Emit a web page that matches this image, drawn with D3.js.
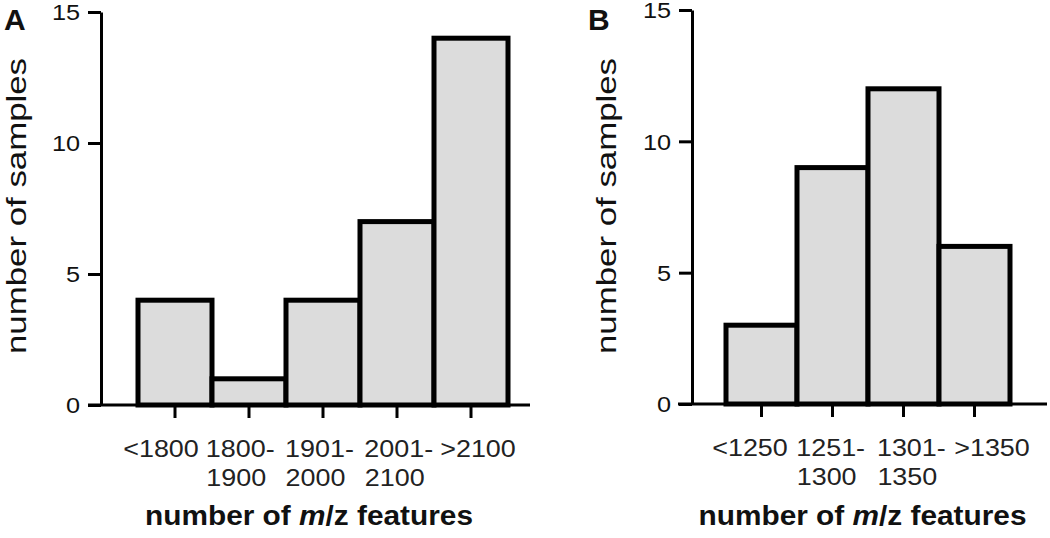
<!DOCTYPE html>
<html>
<head>
<meta charset="utf-8">
<script src="https://cdn.jsdelivr.net/npm/d3@7.9.0/dist/d3.min.js"></script>
<style>
  body { margin: 0; background: #fff; }
  svg { display: block; font-family: "Liberation Sans", Arial, sans-serif; }
</style>
</head>
<body>
<svg id="chart" width="1050" height="538"></svg>
<script>
// Panel A data
const labelsA = [['<1800'], ['1800-', '1900'], ['1901-', '2000'], ['2001-', '2100'], ['>2100']];
const valuesA = [4, 1, 4, 7, 14];

// Panel B data
const labelsB = [['<1250'], ['1251-', '1300'], ['1301-', '1350'], ['>1350']];
const valuesB = [3, 9, 12, 6];

const yTicks = [0, 5, 10, 15];
const yLabel = 'number of samples';

const svg = d3.select('#chart');

function drawPanel(cfg) {
  const { letter, labels, values, axisX, y0, y15, barL, barR, lineL, lineR, labL, labR, letterX, ylabX } = cfg;
  const keys = labels.map((d) => d.join(' '));

  const y = d3.scaleLinear().domain([0, 15]).range([y0, y15]);
  const x = d3.scaleBand().domain(keys).range([barL, barR]).padding(0);
  // label positions spread a little wider than the ticks, like the original
  const xl = d3.scalePoint().domain(keys).range([labL, labR]);

  const g = svg.append('g');

  // bars
  g.selectAll('rect.bar')
    .data(values)
    .join('rect')
    .attr('class', 'bar')
    .attr('x', (d, i) => x(keys[i]))
    .attr('y', (d) => y(d))
    .attr('width', x.bandwidth())
    .attr('height', (d) => y(0) - y(d))
    .attr('fill', '#dcdcdc')
    .attr('stroke', '#000')
    .attr('stroke-width', 5);

  // y axis
  const yAxis = d3.axisLeft(y).tickValues(yTicks).tickSize(13).tickSizeOuter(0);
  const ya = g.append('g').attr('transform', `translate(${axisX},0)`).call(yAxis);
  ya.select('.domain').attr('stroke', '#000').attr('stroke-width', 3);
  ya.selectAll('.tick line').attr('stroke', '#000').attr('stroke-width', 3);
  ya.selectAll('.tick text')
    .attr('x', -21 / 1.15)
    .attr('dy', '0.36em')
    .attr('transform', 'scale(1.15,1)')
    .attr('font-size', 22)
    .attr('fill', '#111');

  // x axis baseline
  g.append('line')
    .attr('x1', lineL).attr('x2', lineR)
    .attr('y1', y(0)).attr('y2', y(0))
    .attr('stroke', '#000').attr('stroke-width', 3);

  // x ticks
  const xAxis = d3.axisBottom(x).tickSize(13).tickSizeOuter(0).tickFormat('');
  const xa = g.append('g').attr('transform', `translate(0,${y(0)})`).call(xAxis);
  xa.select('.domain').remove();
  xa.selectAll('.tick line').attr('stroke', '#000').attr('stroke-width', 3);

  // x tick labels (two lines)
  const lab = g.selectAll('g.lab')
    .data(labels)
    .join('g')
    .attr('class', 'lab');
  lab.selectAll('text')
    .data((d, i) => d.map((t, j) => ({ t, j, k: keys[i] })))
    .join('text')
    .attr('transform', (d) => `translate(${xl(d.k) - (d.j === 1 ? 4 : 0)},${y(0) + 52 + d.j * 29}) scale(1.17,1)`)
    .attr('text-anchor', 'middle')
    .attr('font-size', 23)
    .attr('fill', '#222')
    .text((d) => d.t);

  // x title
  const xt = g.append('text')
    .attr('x', (lineL + lineR) / 2)
    .attr('y', 525)
    .attr('text-anchor', 'middle')
    .attr('font-size', 28)
    .attr('font-weight', 'bold')
    .attr('textLength', 328)
    .attr('lengthAdjust', 'spacingAndGlyphs')
    .attr('fill', '#111');
  xt.append('tspan').text('number of ');
  xt.append('tspan').attr('font-style', 'italic').text('m');
  xt.append('tspan').text('/z features');

  // y title
  g.append('text')
    .attr('transform', `translate(${ylabX},206) rotate(-90)`)
    .attr('text-anchor', 'middle')
    .attr('font-size', 28)
    .attr('textLength', 296)
    .attr('lengthAdjust', 'spacingAndGlyphs')
    .attr('fill', '#111')
    .text(yLabel);

  // panel letter
  g.append('text')
    .attr('x', letterX)
    .attr('y', 30)
    .attr('font-size', 30)
    .attr('font-weight', 'bold')
    .attr('fill', '#111')
    .text(letter);
}

drawPanel({
  letter: 'A', labels: labelsA, values: valuesA,
  axisX: 101, y0: 405, y15: 12, barL: 138, barR: 508,
  lineL: 88, lineR: 530, labL: 161, labR: 478, letterX: 4, ylabX: 26
});

drawPanel({
  letter: 'B', labels: labelsB, values: valuesB,
  axisX: 692, y0: 404, y15: 10, barL: 726, barR: 1010,
  lineL: 678, lineR: 1047, labL: 750, labR: 992, letterX: 588, ylabX: 616
});
</script>
</body>
</html>
